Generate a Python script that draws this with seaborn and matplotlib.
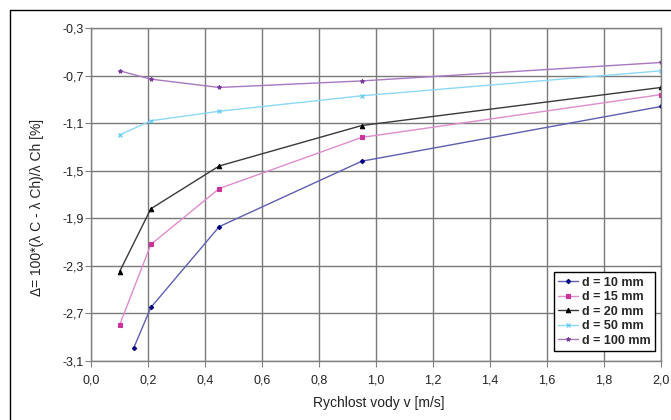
import matplotlib
matplotlib.use("Agg")
import matplotlib.pyplot as plt
import matplotlib.ticker as mticker
from matplotlib.lines import Line2D
import pandas as pd
import seaborn as sns

# data
x_d10 = [0.15, 0.21, 0.45, 0.95, 2.0]
y_d10 = [-2.99, -2.65, -1.97, -1.42, -0.96]
x_d15 = [0.10, 0.21, 0.45, 0.95, 2.0]
y_d15 = [-2.80, -2.12, -1.65, -1.22, -0.86]
x_d20 = [0.10, 0.21, 0.45, 0.95, 2.0]
y_d20 = [-2.35, -1.82, -1.46, -1.12, -0.80]
x_d50 = [0.10, 0.21, 0.45, 0.95, 2.0]
y_d50 = [-1.20, -1.08, -1.00, -0.87, -0.66]
x_d100 = [0.10, 0.21, 0.45, 0.95, 2.0]
y_d100 = [-0.66, -0.73, -0.80, -0.745, -0.59]

labels = ["d = 10 mm", "d = 15 mm", "d = 20 mm", "d = 50 mm", "d = 100 mm"]
x_ticks = [0.0, 0.2, 0.4, 0.6, 0.8, 1.0, 1.2, 1.4, 1.6, 1.8, 2.0]
y_ticks = [-3.1, -2.7, -2.3, -1.9, -1.5, -1.1, -0.7, -0.3]

series = [(x_d10, y_d10), (x_d15, y_d15), (x_d20, y_d20), (x_d50, y_d50), (x_d100, y_d100)]
styles = [
    dict(line="#5e5eb0", mk="#000080", marker="D", ms=2.2),
    dict(line="#e08ccc", mk="#cc3399", marker="s", ms=2.6),
    dict(line="#3a3a3a", mk="#000000", marker="^", ms=3.2),
    dict(line="#8cd8f8", mk="#55c8f5", marker="x", ms=2.4),
    dict(line="#a878c0", mk="#7a3c9c", marker="*", ms=3.0),
]

sns.set_style("white")
plt.rcParams["font.family"] = ["Liberation Sans", "DejaVu Sans"]

fig = plt.figure(figsize=(6.71, 4.2), dpi=100)
fig.patch.set_facecolor("white")
ax = fig.add_axes([91 / 671, 59 / 420, 570 / 671, 333 / 420])

for (xs, ys), lab, st in zip(series, labels, styles):
    df = pd.DataFrame({"v": xs, "delta": ys})
    sns.lineplot(data=df, x="v", y="delta", ax=ax, color=st["line"], lw=1.0,
                 marker=st["marker"], markersize=st["ms"], markerfacecolor=st["mk"],
                 markeredgecolor=st["mk"], markeredgewidth=0.8, label=lab)

ax.set_xlim(0, 2.0)
ax.set_ylim(-3.1, -0.3)
ax.set_xticks(x_ticks)
ax.set_yticks(y_ticks)
fmt = mticker.FuncFormatter(lambda v, p: f"{v:.1f}".replace(".", ","))
ax.xaxis.set_major_formatter(fmt)
ax.yaxis.set_major_formatter(fmt)
ax.grid(True, color="#7a7a7a", lw=1.0)
ax.tick_params(axis="both", direction="out", length=4, width=0.8, color="#808080",
               labelsize=9, labelcolor="#222222", bottom=True, left=True)
ax.tick_params(axis="x", pad=6)
ax.tick_params(axis="y", pad=1)
for s in ax.spines.values():
    s.set_color("#808080")
    s.set_linewidth(1.0)

ax.set_xlabel("Rychlost vody v [m/s]", fontsize=10, color="#222222", va="top")
ax.xaxis.set_label_coords(0.505, -0.105)
ax.set_ylabel("Δ= 100*(λ C - λ Ch)/λ Ch [%]", fontsize=10, color="#222222")
ax.yaxis.set_label_coords(-0.083, 0.46)

leg = ax.legend(loc="lower right", bbox_to_anchor=(0.99, 0.03), frameon=True, fancybox=False,
                edgecolor="black", framealpha=1, prop={"weight": "bold", "size": 9},
                handlelength=1.6, handletextpad=0.35, labelspacing=0.2, borderpad=0.35,
                borderaxespad=0)
leg.get_frame().set_linewidth(1.0)

# outer chart border (left and top edges visible in the reference)
fig.add_artist(Line2D([9.5 / 671, 9.5 / 671], [0, 410 / 420], transform=fig.transFigure,
                      color="black", lw=1.0))
fig.add_artist(Line2D([9.5 / 671, 1], [410 / 420, 410 / 420], transform=fig.transFigure,
                      color="black", lw=1.0))

fig.savefig("out.png", dpi=100, facecolor="white")
plt.close(fig)
